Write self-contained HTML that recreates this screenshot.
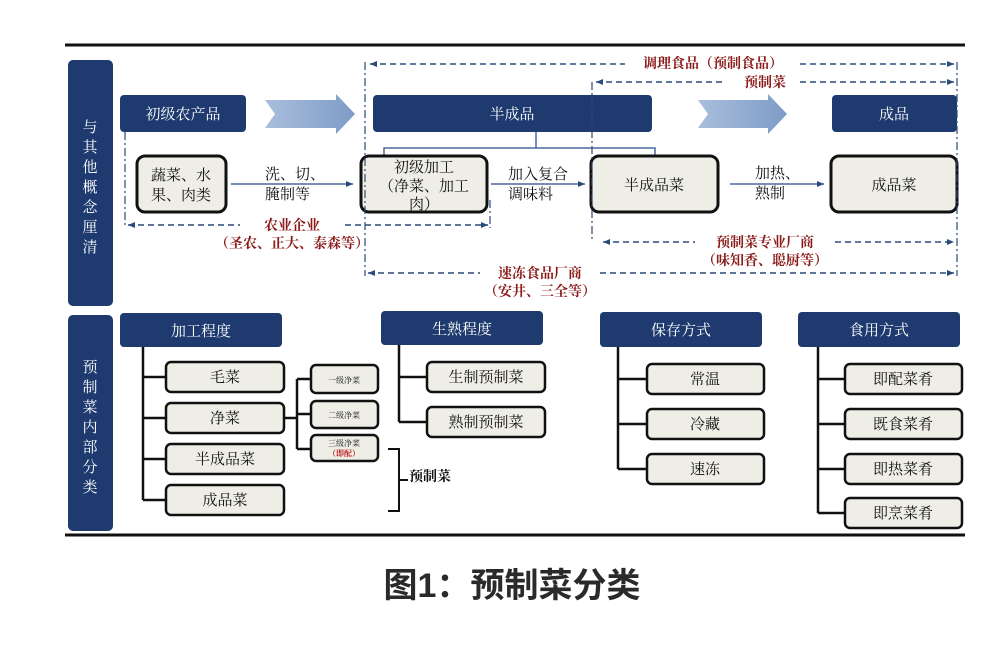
<!DOCTYPE html>
<html><head><meta charset="utf-8"><style>
body{margin:0;background:#fff;}
svg text{font-family:"Liberation Serif","Noto Serif CJK SC",serif;}
</style></head><body>
<svg width="1000" height="641" viewBox="0 0 1000 641" xmlns="http://www.w3.org/2000/svg">
<defs>
<marker id="a" markerWidth="8" markerHeight="8" refX="7" refY="4" orient="auto" markerUnits="userSpaceOnUse"><path d="M0,1 L7,4 L0,7z" fill="#2a4a7a"/></marker>
<marker id="b" markerWidth="8" markerHeight="8" refX="1" refY="4" orient="auto" markerUnits="userSpaceOnUse"><path d="M8,1 L1,4 L8,7z" fill="#2a4a7a"/></marker>
<linearGradient id="g" x1="0" x2="1"><stop offset="0" stop-color="#a9bedc"/><stop offset="1" stop-color="#7e9cc8"/></linearGradient>
</defs>
<line x1="65" y1="45" x2="965" y2="45" stroke="#111" stroke-width="3"/>
<line x1="65" y1="535" x2="965" y2="535" stroke="#111" stroke-width="3"/>
<rect x="68" y="60" width="45" height="246" rx="5" fill="#1e3a6e"/>
<rect x="68" y="315" width="45" height="216" rx="5" fill="#1e3a6e"/>
<g fill="#fff" font-size="15" text-anchor="middle">
<text x="90" y="132">与</text><text x="90" y="152">其</text><text x="90" y="172">他</text><text x="90" y="192">概</text><text x="90" y="212">念</text><text x="90" y="232">厘</text><text x="90" y="252">清</text>
<text x="90" y="372">预</text><text x="90" y="392">制</text><text x="90" y="412">菜</text><text x="90" y="432">内</text><text x="90" y="452">部</text><text x="90" y="472">分</text><text x="90" y="492">类</text>
</g>
<g fill="#1e3a6e">
<rect x="120" y="95" width="126" height="37" rx="4"/>
<rect x="373" y="95" width="279" height="37" rx="4"/>
<rect x="832" y="95" width="125" height="37" rx="4"/>
<rect x="120" y="313" width="162" height="34" rx="4"/>
<rect x="381" y="311" width="162" height="34" rx="4"/>
<rect x="600" y="312" width="162" height="35" rx="4"/>
<rect x="798" y="312" width="162" height="35" rx="4"/>
</g>
<g fill="#fff" font-size="15" text-anchor="middle">
<text x="183" y="119">初级农产品</text><text x="512" y="119">半成品</text><text x="894" y="119">成品</text>
<text x="201" y="336">加工程度</text><text x="462" y="334">生熟程度</text><text x="681" y="335">保存方式</text><text x="879" y="335">食用方式</text>
</g>
<path d="M265,100 L336,100 L336,94 L355,114 L336,134 L336,128 L265,128 L275,114z" fill="url(#g)"/>
<path d="M698,100 L768,100 L768,94 L787,114 L768,134 L768,128 L698,128 L708,114z" fill="url(#g)"/>
<g stroke="#4a6a9a" stroke-width="1.5" fill="none">
<path d="M536,132 V148 M384,156 V148 H655 V156"/>
</g>
<g fill="#eeede6" stroke="#111" stroke-width="3">
<rect x="137" y="156" width="89" height="56" rx="8"/>
<rect x="361" y="156" width="126" height="56" rx="8"/>
<rect x="591" y="156" width="127" height="56" rx="8"/>
<rect x="831" y="156" width="126" height="56" rx="8"/>
</g>
<g font-size="15" text-anchor="middle" fill="#111">
<text x="181" y="180">蔬菜、水</text><text x="181" y="200">果、肉类</text>
<text x="424" y="172">初级加工</text><text x="424" y="191">（净菜、加工</text><text x="424" y="209">肉）</text>
<text x="654" y="190">半成品菜</text><text x="894" y="190">成品菜</text>
<text x="265" y="179" text-anchor="start">洗、切、</text><text x="265" y="199" text-anchor="start">腌制等</text>
<text x="508" y="179" text-anchor="start">加入复合</text><text x="508" y="199" text-anchor="start">调味料</text>
<text x="755" y="178" text-anchor="start">加热、</text><text x="755" y="198" text-anchor="start">熟制</text>
</g>
<g stroke="#4a6a9a" stroke-width="1.5">
<line x1="231" y1="184" x2="353" y2="184" marker-end="url(#a)"/>
<line x1="491" y1="184" x2="585" y2="184" marker-end="url(#a)"/>
<line x1="730" y1="184" x2="824" y2="184" marker-end="url(#a)"/>
</g>
<g stroke="#2a4a7a" stroke-width="1.5" stroke-dasharray="6,4" fill="none">
<line x1="370" y1="64" x2="625" y2="64" marker-start="url(#b)"/><line x1="800" y1="64" x2="954" y2="64" marker-end="url(#a)"/>
<line x1="596" y1="82" x2="725" y2="82" marker-start="url(#b)"/><line x1="800" y1="82" x2="954" y2="82" marker-end="url(#a)"/>
<line x1="128" y1="225" x2="240" y2="225" marker-start="url(#b)"/><line x1="345" y1="225" x2="488" y2="225" marker-end="url(#a)"/>
<line x1="603" y1="242" x2="695" y2="242" marker-start="url(#b)"/><line x1="835" y1="242" x2="954" y2="242" marker-end="url(#a)"/>
<line x1="368" y1="273" x2="480" y2="273" marker-start="url(#b)"/><line x1="600" y1="273" x2="954" y2="273" marker-end="url(#a)"/>
</g>
<g stroke="#2a4a7a" stroke-width="1.2" stroke-dasharray="8,3,2,3" fill="none">
<line x1="365" y1="62" x2="365" y2="276"/><line x1="592" y1="82" x2="592" y2="242"/>
<line x1="957" y1="62" x2="957" y2="276"/><line x1="125" y1="132" x2="125" y2="228"/><line x1="490" y1="200" x2="490" y2="228"/>
</g>
<g fill="#8b1a1a" font-size="14" font-weight="bold" text-anchor="middle">
<text x="713" y="68">调理食品（预制食品）</text><text x="765" y="87">预制菜</text>
<text x="292" y="230">农业企业</text><text x="292" y="248">（圣农、正大、泰森等）</text>
<text x="765" y="247">预制菜专业厂商</text><text x="765" y="265">（味知香、聪厨等）</text>
<text x="540" y="278">速冻食品厂商</text><text x="540" y="296">（安井、三全等）</text>
</g>
<g stroke="#111" stroke-width="2.5" fill="none">
<path d="M143,347 V500 M143,377 H166 M143,418 H166 M143,459 H166 M143,500 H166"/>
<path d="M285,418 H297 M297,379 V449 M297,379 H311 M297,414 H311 M297,449 H311"/>
<path d="M399,345 V422 M399,377 H427 M399,422 H427"/>
<path d="M618,347 V469 M618,379 H647 M618,424 H647 M618,469 H647"/>
<path d="M818,347 V513 M818,379 H845 M818,424 H845 M818,469 H845 M818,513 H845"/>
<path d="M388,449 H399 V511 H388 M399,480 H408" stroke-width="2"/>
</g>
<g fill="#eeede6" stroke="#111" stroke-width="2.5">
<rect x="166" y="362" width="118" height="30" rx="5"/><rect x="166" y="403" width="118" height="30" rx="5"/>
<rect x="166" y="444" width="118" height="30" rx="5"/><rect x="166" y="485" width="118" height="30" rx="5"/>
<rect x="311" y="365" width="67" height="28" rx="5"/><rect x="311" y="401" width="67" height="27" rx="5"/><rect x="311" y="435" width="67" height="26" rx="5"/>
<rect x="427" y="362" width="118" height="30" rx="5"/><rect x="427" y="407" width="118" height="30" rx="5"/>
<rect x="647" y="364" width="117" height="30" rx="5"/><rect x="647" y="409" width="117" height="30" rx="5"/><rect x="647" y="454" width="117" height="30" rx="5"/>
<rect x="845" y="364" width="117" height="30" rx="5"/><rect x="845" y="409" width="117" height="30" rx="5"/><rect x="845" y="454" width="117" height="30" rx="5"/><rect x="845" y="498" width="117" height="30" rx="5"/>
</g>
<g font-size="15" text-anchor="middle" fill="#111">
<text x="225" y="382">毛菜</text><text x="225" y="423">净菜</text><text x="225" y="464">半成品菜</text><text x="225" y="505">成品菜</text>
<text x="486" y="382">生制预制菜</text><text x="486" y="427">熟制预制菜</text>
<text x="705" y="384">常温</text><text x="705" y="429">冷藏</text><text x="705" y="474">速冻</text>
<text x="903" y="384">即配菜肴</text><text x="903" y="429">既食菜肴</text><text x="903" y="474">即热菜肴</text><text x="903" y="518">即烹菜肴</text>
<text x="430" y="481" font-weight="bold" font-size="14">预制菜</text>
</g>
<g font-size="8" text-anchor="middle" fill="#111">
<text x="344" y="383">一级净菜</text><text x="344" y="418">二级净菜</text><text x="344" y="446">三级净菜</text>
<text x="344" y="456" fill="#c01818" font-weight="bold">（即配）</text>
</g>
<text x="512" y="597" font-size="34" font-weight="bold" text-anchor="middle" fill="#2a2a2a" style="font-family:'Liberation Sans','Noto Sans CJK SC',sans-serif">图1：预制菜分类</text>
</svg>
</body></html>
